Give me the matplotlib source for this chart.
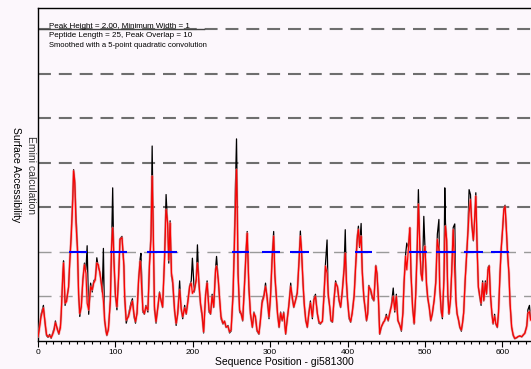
import numpy as np
import matplotlib
matplotlib.use("Agg")
import matplotlib.pyplot as plt

plt.rcParams['font.family'] = ['Liberation Sans', 'DejaVu Sans']

### Emini surface accessibility (position, smoothed, raw)
pos = [0, 2, 4, 7, 9, 11, 13, 15, 17, 19, 21, 22.5, 25, 27, 29, 30, 32, 33, 35, 37,
       39.5, 41, 43, 45, 46, 47.5, 49, 51, 52.5, 54, 56, 58, 60, 62, 63.5, 65.5, 68, 70, 72, 74,
       76, 78, 80, 83, 84.5, 86, 88, 89, 91, 93.5, 95, 96.5, 98, 100, 102, 104, 106, 108.5, 111, 112,
       114, 117, 120, 122, 124, 126, 128, 130, 132, 133, 135.5, 137.5, 139.5, 142, 144, 146, 147.5, 148.8, 150.5, 152.5,
       155, 157, 159, 161, 163.5, 165.5, 167.5, 169, 170.7, 172.5, 174, 176.5, 178.5, 180.5, 183, 185, 187, 189.5, 191.5, 193.5,
       196, 198, 199.5, 202, 204.5, 206, 208, 210, 212, 214, 216.5, 218.5, 221, 223, 225, 227, 229.5, 230.7, 233, 234.5,
       236.5, 239, 241, 243, 245.5, 247.5, 249.5, 252, 253.5, 255, 256.5, 257.5, 258.5, 260.5, 262.5, 264.5, 267, 269, 270.3, 272.5,
       274.5, 277, 279, 281, 283, 285.5, 287.5, 289.5, 292, 294, 296, 298.5, 300.5, 302.5, 304.5, 306, 308, 309.5, 311.5, 313.5,
       315.5, 317.5, 320, 322, 324, 326.5, 328.5, 330.5, 333, 335, 337, 339, 340.5, 342.5, 344, 346, 348, 350, 352, 354.5,
       356.5, 358.5, 361, 363, 365, 367.5, 369.5, 371.5, 373.5, 375, 377, 378.5, 380.5, 382.5, 384.5, 387, 389, 391, 393, 395.5,
       397, 398.5, 400, 402, 404, 406, 408.5, 410.5, 412.5, 414, 415.5, 417.5, 419, 421, 422.5, 424.5, 426, 427.5, 430, 432,
       434, 436.5, 438, 440, 441.5, 443.5, 446, 448, 450, 452.5, 454.5, 456.5, 459, 461, 463, 465, 467.5, 469.5, 471.5, 473,
       475, 476.5, 478.5, 480.5, 482, 484, 486, 488, 490, 491.5, 493.5, 495, 496.5, 498.5, 500, 502, 503.5, 505.5, 507.5, 509.5,
       512, 514, 516, 518, 519, 521, 522.5, 524.5, 525.6, 526.5, 528, 529.5, 531, 533, 534.5, 536.5, 538.5, 540, 541.5, 543.5,
       545, 547, 548.5, 550, 552, 553.5, 555.5, 557, 558.8, 560.5, 562.5, 564, 565.7, 567.5, 569, 571, 572.5, 574.5, 576, 578,
       579.5, 581.5, 583, 584.5, 586.5, 588, 590, 591.5, 593.5, 595, 597, 598.5, 600, 602, 603.5, 605, 606.5, 608.5, 610, 612,
       614, 616, 618.5, 620.5, 622.5, 625, 627, 629, 631.5, 633, 635, 636.5]
smooth = [0.10, 0.30, 0.55, 0.74, 0.45, 0.15, 0.10, 0.12, 0.08, 0.15, 0.25, 0.41, 0.28, 0.17, 0.30, 0.62, 1.45, 1.75, 0.85, 0.89,
          1.22, 1.75, 2.35, 3.18, 3.82, 3.55, 2.65, 2.05, 1.07, 0.62, 0.77, 1.37, 1.71, 1.52, 0.85, 0.70, 1.22, 1.15, 1.30, 1.37,
          1.75, 1.71, 1.52, 1.15, 0.90, 0.50, 0.22, 0.14, 0.25, 0.92, 2.05, 2.54, 1.90, 1.07, 0.77, 1.37, 2.28, 2.32, 1.68, 1.00,
          0.47, 0.55, 0.77, 0.89, 0.62, 0.44, 0.62, 1.37, 1.79, 1.50, 0.70, 0.62, 0.77, 0.70, 1.68, 2.28, 3.70, 2.60, 0.77, 0.44,
          0.77, 1.07, 0.92, 0.77, 1.82, 2.95, 2.65, 1.82, 2.65, 1.52, 1.37, 0.70, 0.40, 0.62, 1.15, 0.74, 0.55, 0.74, 0.62, 0.85,
          1.22, 1.30, 1.07, 1.15, 1.37, 1.75, 1.30, 0.85, 0.62, 0.21, 1.00, 1.30, 0.70, 0.62, 1.00, 0.77, 1.60, 1.68, 1.37, 1.00,
          0.55, 0.40, 0.44, 0.32, 0.32, 0.21, 0.25, 1.00, 1.97, 3.03, 3.85, 2.80, 1.52, 0.70, 0.62, 0.47, 1.30, 2.05, 2.42, 1.22,
          0.62, 0.32, 0.62, 0.55, 0.25, 0.17, 0.47, 0.85, 1.00, 1.22, 1.00, 0.55, 1.00, 1.82, 2.35, 1.52, 1.00, 0.62, 0.32, 0.62,
          0.47, 0.62, 0.17, 0.47, 0.77, 1.22, 1.00, 0.77, 0.92, 1.07, 1.68, 2.35, 2.05, 1.30, 0.85, 0.47, 0.32, 0.62, 0.85, 0.55,
          0.92, 1.00, 0.62, 0.44, 0.40, 0.44, 1.00, 1.68, 1.52, 1.07, 0.77, 0.47, 0.44, 0.92, 1.30, 1.22, 0.92, 0.77, 1.07, 1.60,
          1.97, 1.37, 0.92, 0.55, 0.44, 0.62, 1.00, 1.68, 2.28, 2.50, 2.13, 2.35, 1.52, 1.00, 0.77, 0.47, 0.62, 1.22, 1.15, 1.00,
          0.92, 1.68, 1.52, 0.92, 0.17, 0.32, 0.40, 0.47, 0.55, 0.47, 0.62, 0.77, 1.00, 0.70, 1.00, 0.47, 0.36, 0.25, 0.62, 1.30,
          1.90, 1.60, 2.05, 2.54, 1.52, 0.77, 0.40, 1.00, 2.05, 3.07, 2.05, 1.52, 1.37, 1.97, 2.13, 1.30, 1.00, 0.77, 0.47, 0.62,
          0.92, 1.30, 2.28, 2.05, 1.22, 0.70, 0.55, 1.37, 2.20, 2.58, 2.28, 1.07, 0.62, 0.92, 1.52, 2.50, 1.52, 0.92, 0.62, 0.47,
          0.32, 0.25, 0.40, 0.62, 1.37, 1.82, 2.42, 2.87, 3.17, 2.65, 2.28, 2.65, 3.25, 2.05, 1.22, 1.00, 0.85, 1.30, 0.92, 1.30,
          1.07, 1.60, 1.68, 1.07, 0.62, 0.40, 0.55, 0.40, 0.32, 0.62, 1.52, 2.05, 2.42, 2.95, 3.02, 2.58, 2.05, 1.52, 0.85, 0.32,
          0.14, 0.06, 0.08, 0.10, 0.11, 0.10, 0.14, 0.17, 0.32, 0.62, 0.66, 0.47]
raw = [0.05, 0.35, 0.60, 0.80, 0.40, 0.12, 0.08, 0.15, 0.06, 0.18, 0.30, 0.45, 0.25, 0.15, 0.35, 0.60, 1.50, 1.80, 0.80, 0.95,
       1.20, 1.80, 2.45, 3.30, 3.85, 3.60, 2.90, 2.10, 1.00, 0.55, 0.80, 1.40, 1.75, 1.60, 2.14, 0.60, 1.30, 1.10, 1.35, 1.40,
       1.87, 1.65, 1.55, 1.10, 2.08, 0.45, 0.20, 0.12, 0.30, 0.90, 2.10, 3.44, 1.80, 1.00, 0.70, 1.40, 2.30, 2.35, 1.70, 0.95,
       0.40, 0.60, 0.85, 0.95, 0.55, 0.40, 0.65, 1.40, 1.85, 1.97, 0.65, 0.60, 0.80, 0.65, 1.75, 2.40, 4.38, 2.60, 0.70, 0.40,
       0.80, 1.10, 0.90, 0.75, 1.90, 3.29, 2.60, 1.75, 2.70, 1.45, 1.30, 0.65, 0.35, 0.60, 1.35, 0.70, 0.50, 0.80, 0.60, 0.90,
       1.25, 1.35, 1.86, 1.10, 1.40, 2.16, 1.25, 0.80, 0.55, 0.18, 1.05, 1.35, 0.65, 0.60, 1.05, 0.75, 1.65, 1.90, 1.35, 0.95,
       0.50, 0.38, 0.45, 0.30, 0.35, 0.18, 0.22, 1.10, 2.10, 3.40, 4.54, 3.20, 1.50, 0.65, 0.60, 0.45, 1.35, 2.10, 2.46, 1.15,
       0.60, 0.30, 0.65, 0.50, 0.22, 0.15, 0.50, 0.90, 1.05, 1.30, 0.95, 0.50, 1.05, 1.90, 2.46, 1.45, 0.95, 0.60, 0.30, 0.65,
       0.45, 0.65, 0.15, 0.50, 0.80, 1.30, 0.95, 0.75, 0.95, 1.10, 1.75, 2.47, 2.00, 1.25, 0.80, 0.45, 0.30, 0.65, 0.90, 0.50,
       0.95, 1.05, 0.60, 0.40, 0.38, 0.45, 1.05, 1.75, 2.27, 1.00, 0.75, 0.45, 0.42, 0.95, 1.35, 1.20, 0.90, 0.75, 1.10, 1.65,
       2.50, 1.30, 0.90, 0.50, 0.42, 0.65, 1.05, 1.75, 2.35, 2.58, 2.10, 2.64, 1.60, 0.95, 0.75, 0.45, 0.60, 1.25, 1.10, 0.95,
       0.90, 1.70, 1.50, 0.85, 0.15, 0.30, 0.42, 0.45, 0.60, 0.45, 0.65, 0.80, 1.19, 0.65, 1.05, 0.45, 0.35, 0.22, 0.65, 1.35,
       1.95, 2.20, 2.10, 2.55, 1.45, 0.75, 0.38, 1.05, 2.20, 3.40, 2.00, 1.50, 1.35, 2.80, 2.10, 1.25, 0.95, 0.75, 0.45, 0.60,
       0.95, 1.35, 2.40, 2.73, 1.20, 0.65, 0.50, 1.40, 3.44, 2.65, 2.25, 1.00, 0.60, 0.95, 1.55, 2.55, 2.63, 0.90, 0.60, 0.45,
       0.30, 0.22, 0.40, 0.65, 1.40, 1.85, 2.50, 3.40, 3.29, 2.60, 2.25, 2.70, 3.33, 2.00, 1.20, 0.95, 0.80, 1.35, 0.90, 1.35,
       1.05, 1.65, 1.70, 1.05, 0.60, 0.38, 0.60, 0.38, 0.30, 0.65, 1.55, 2.10, 2.45, 3.00, 3.05, 2.55, 2.00, 1.50, 0.80, 0.30,
       0.12, 0.05, 0.07, 0.10, 0.12, 0.09, 0.13, 0.18, 0.35, 0.70, 0.80, 0.50]

### predicted antigenic peptides (start, end) above the 2.00 threshold
pep_start = [40, 93, 141, 251, 290, 326, 409, 479, 514, 551, 585]
pep_end = [63, 115, 179, 273, 313, 350, 432, 503, 540, 575, 608]
threshold = 2.0
grid_levels = [1, 2, 3, 4, 5, 6, 7]

header = ["Peak Height = 2.00, Minimum Width = 1",
          "Peptide Length = 25, Peak Overlap = 10",
          "Smoothed with a 5-point quadratic convolution"]

bg = '#fcf7fc'
fig = plt.figure(figsize=(5.31, 3.69), dpi=100, facecolor=bg)
ax = fig.add_axes([38 / 531, 28 / 369, 493 / 531, 333 / 369], facecolor=bg)

for lv in grid_levels:
    if lv <= 2:
        ax.axhline(lv, color='#9a9a9a', lw=1.0, dashes=(9.4, 5.8), zorder=1)
    else:
        ax.axhline(lv, color='#6e6e6e', lw=1.5, dashes=(6.2, 3.8), zorder=1)
# the top line runs solid under the header text
ax.plot([0, 0.337], [7, 7], transform=ax.get_yaxis_transform(), color='#444444', lw=1.0, zorder=1)

ax.plot(pos, raw, color='black', lw=0.9, zorder=2)
ax.plot(pos, smooth, color='#ff8a8a', lw=2.0, alpha=0.6, zorder=3)
ax.plot(pos, smooth, color='#ff0000', lw=0.8, zorder=4)
ax.hlines([threshold] * len(pep_start), pep_start, pep_end, color='#0000ff', lw=1.5, zorder=5)

ax.set_xlim(0, 637)
ax.set_ylim(0, 7.48)
ax.set_xticks(np.arange(0, 601, 100))
ax.set_xticks(np.arange(0, 637, 10), minor=True)
ax.set_yticks([])
ax.tick_params(axis='x', which='major', direction='out', length=4, width=0.8, labelsize=6, pad=1.5)
ax.tick_params(axis='x', which='minor', direction='out', length=2.5, width=0.8)
ax.spines['right'].set_visible(False)
for s in ['left', 'top', 'bottom']:
    ax.spines[s].set_linewidth(1.0)
ax.set_xlabel("Sequence Position - gi581300", fontsize=7.5, labelpad=1)

fig.text(15.5 / 531, 1 - 174.5 / 369, "Surface Accessibility", rotation=-90,
         ha='center', va='center', fontsize=7.5)
fig.text(31 / 531, 1 - 174.5 / 369, "Emini calculation", rotation=-90,
         ha='center', va='center', fontsize=7.5, color='#333333')

for txt, yb, fs in zip(header, [7.04, 6.83, 6.60], [5.8, 5.8, 5.5]):
    ax.text(13.7, yb, txt, fontsize=fs, va='baseline', zorder=6)

fig.savefig("out.png", dpi=100, facecolor=bg)
